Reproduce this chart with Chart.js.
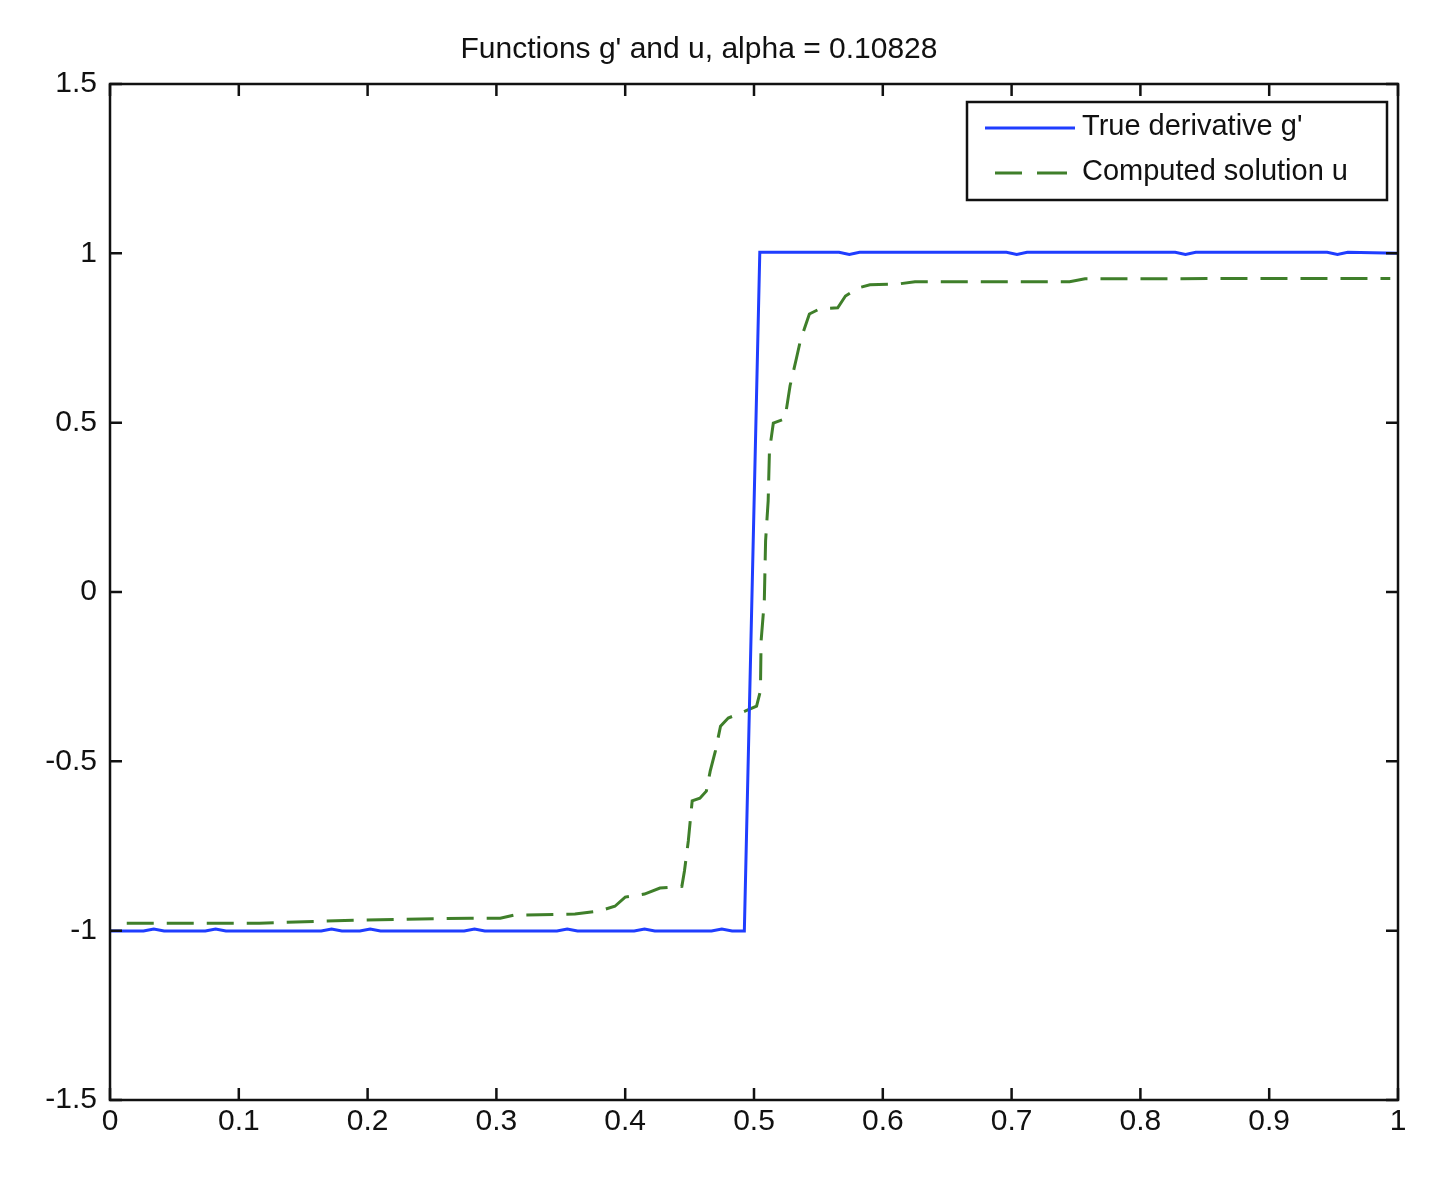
<!DOCTYPE html>
<html>
<head>
<meta charset="utf-8">
<script src="https://cdn.jsdelivr.net/npm/chart.js@4"></script>
<style>
  html, body { margin: 0; padding: 0; background: #fff; }
  #wrap { width: 1449px; height: 1181px; }
</style>
</head>
<body>
<div id="wrap"><canvas id="chart" width="1449" height="1181"></canvas></div>
<script>
const titleText = "Functions g' and u, alpha = 0.10828";
const seriesNames = ["True derivative g'", "Computed solution u"];

// true derivative g' (blue, solid)
const blueX = [0, 0.026, 0.034, 0.042, 0.074, 0.082, 0.090, 0.164, 0.172, 0.180, 0.194, 0.202, 0.210,
  0.275, 0.283, 0.291, 0.347, 0.355, 0.363, 0.407, 0.415, 0.423, 0.467, 0.475, 0.483, 0.4925,
  0.5045, 0.566, 0.574, 0.582, 0.696, 0.704, 0.712, 0.827, 0.835, 0.843, 0.945, 0.953, 0.961, 1.0];
const blueY = [-1.001, -1.001, -0.995, -1.001, -1.001, -0.995, -1.001, -1.001, -0.995, -1.001, -1.001, -0.995, -1.001,
  -1.001, -0.995, -1.001, -1.001, -0.995, -1.001, -1.001, -0.995, -1.001, -1.001, -0.995, -1.001, -1.001,
  1.003, 1.003, 0.997, 1.003, 1.003, 0.997, 1.003, 1.003, 0.997, 1.003, 1.003, 0.997, 1.003, 1.0];

// computed solution u (green, dashed)
const greenX = [0.013, 0.116, 0.19, 0.28, 0.303, 0.314, 0.361, 0.380, 0.392, 0.400, 0.415, 0.427, 0.444,
  0.446, 0.449, 0.452, 0.458, 0.463, 0.466, 0.470, 0.474, 0.480, 0.484, 0.493, 0.502, 0.505, 0.5055,
  0.508, 0.509, 0.511, 0.512, 0.515, 0.524, 0.528, 0.533, 0.536, 0.543, 0.551, 0.565, 0.571, 0.581,
  0.590, 0.613, 0.625, 0.745, 0.757, 0.994];
const greenY = [-0.978, -0.978, -0.969, -0.963, -0.963, -0.954, -0.951, -0.942, -0.928, -0.901, -0.892, -0.874, -0.869,
  -0.824, -0.735, -0.617, -0.609, -0.588, -0.529, -0.470, -0.396, -0.372, -0.366, -0.352, -0.337, -0.292, -0.145,
  -0.027, 0.151, 0.269, 0.417, 0.499, 0.511, 0.609, 0.691, 0.742, 0.821, 0.836, 0.839, 0.874, 0.898,
  0.907, 0.910, 0.916, 0.916, 0.925, 0.926];

const xMin = 0, xMax = 1, xStep = 0.1;
const yMin = -1.5, yMax = 1.5, yStep = 0.5;

const blueColor = '#1f3dff';
const greenColor = '#3f7f2a';
const fontFamily = "'Liberation Sans', Arial, sans-serif";

const toPoints = (xs, ys) => xs.map((x, i) => ({ x: x, y: ys[i] }));

// box, inward ticks on all four sides, legend
const matlabAxes = {
  id: 'matlabAxes',
  afterDatasetsDraw(chart) {
    const ctx = chart.ctx;
    const a = chart.chartArea;
    const xs = chart.scales.x, ys = chart.scales.y;
    const tl = 12;
    ctx.save();
    ctx.strokeStyle = '#111';
    ctx.lineWidth = 2.5;
    ctx.beginPath();
    xs.ticks.forEach(t => {
      const px = xs.getPixelForValue(t.value);
      ctx.moveTo(px, a.bottom); ctx.lineTo(px, a.bottom - tl);
      ctx.moveTo(px, a.top); ctx.lineTo(px, a.top + tl);
    });
    ys.ticks.forEach(t => {
      const py = ys.getPixelForValue(t.value);
      ctx.moveTo(a.left, py); ctx.lineTo(a.left + tl, py);
      ctx.moveTo(a.right, py); ctx.lineTo(a.right - tl, py);
    });
    ctx.stroke();
    ctx.strokeRect(a.left, a.top, a.right - a.left, a.bottom - a.top);

    // legend box
    const lx = a.right - 431, ly = a.top + 18, lw = 420, lh = 98;
    ctx.fillStyle = '#fff';
    ctx.fillRect(lx, ly, lw, lh);
    ctx.strokeStyle = '#111';
    ctx.lineWidth = 2.5;
    ctx.strokeRect(lx, ly, lw, lh);

    ctx.lineWidth = 3;
    ctx.strokeStyle = blueColor;
    ctx.beginPath();
    ctx.moveTo(lx + 18, ly + 26); ctx.lineTo(lx + 108, ly + 26);
    ctx.stroke();

    ctx.strokeStyle = greenColor;
    ctx.beginPath();
    ctx.moveTo(lx + 28, ly + 71); ctx.lineTo(lx + 55, ly + 71);
    ctx.moveTo(lx + 70, ly + 71); ctx.lineTo(lx + 100, ly + 71);
    ctx.stroke();

    ctx.fillStyle = '#111';
    ctx.font = '29px ' + fontFamily;
    ctx.textBaseline = 'middle';
    ctx.textAlign = 'left';
    ctx.fillText(seriesNames[0], lx + 115, ly + 25);
    ctx.fillText(seriesNames[1], lx + 115, ly + 70);
    ctx.restore();
  }
};

new Chart(document.getElementById('chart').getContext('2d'), {
  type: 'line',
  data: {
    datasets: [
      {
        label: seriesNames[0],
        data: toPoints(blueX, blueY),
        borderColor: blueColor,
        borderWidth: 3,
        pointRadius: 0,
        tension: 0,
        fill: false
      },
      {
        label: seriesNames[1],
        data: toPoints(greenX, greenY),
        borderColor: greenColor,
        borderWidth: 3,
        borderDash: [27, 13],
        pointRadius: 0,
        tension: 0,
        fill: false
      }
    ]
  },
  options: {
    responsive: false,
    animation: false,
    events: [],
    layout: { padding: { left: 0, right: 51, top: 0, bottom: 0 } },
    plugins: {
      legend: { display: false },
      tooltip: { enabled: false },
      title: {
        display: true,
        text: titleText,
        color: '#111',
        font: { family: fontFamily, size: 30, weight: 'normal' },
        padding: { top: 32, bottom: 16 }
      }
    },
    scales: {
      x: {
        type: 'linear',
        min: xMin, max: xMax,
        grid: { display: false, drawTicks: false },
        border: { display: false },
        ticks: {
          stepSize: xStep,
          padding: 4,
          color: '#111',
          maxRotation: 0,
          autoSkip: false,
          font: { family: fontFamily, size: 30 },
          callback: v => String(Math.round(v * 10) / 10)
        },
        afterFit: s => { s.height = 81; }
      },
      y: {
        type: 'linear',
        min: yMin, max: yMax,
        grid: { display: false, drawTicks: false },
        border: { display: false },
        ticks: {
          stepSize: yStep,
          padding: 13,
          color: '#111',
          autoSkip: false,
          font: { family: fontFamily, size: 30 },
          callback: v => String(v)
        },
        afterFit: s => { s.width = 110; }
      }
    }
  },
  plugins: [matlabAxes]
});
</script>
</body>
</html>
